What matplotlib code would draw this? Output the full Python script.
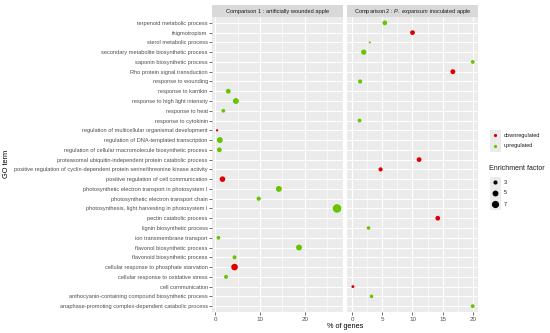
import matplotlib
matplotlib.use("Agg")
import matplotlib.pyplot as plt
from matplotlib.ticker import MultipleLocator
import numpy as np

plt.rcParams['font.family'] = ['Liberation Sans', 'DejaVu Sans']
plt.rcParams['mathtext.fontset'] = 'custom'
plt.rcParams['mathtext.rm'] = 'Liberation Sans'
plt.rcParams['mathtext.it'] = 'Liberation Sans:italic'

go_terms = [
    "terpenoid metabolic process",
    "thigmotropism",
    "sterol metabolic process",
    "secondary metabolite biosynthetic process",
    "saponin biosynthetic process",
    "Rho protein signal transduction",
    "response to wounding",
    "response to karrikin",
    "response to high light intensity",
    "response to heat",
    "response to cytokinin",
    "regulation of multicellular organismal development",
    "regulation of DNA-templated transcription",
    "regulation of cellular macromolecule biosynthetic process",
    "proteasomal ubiquitin-independent protein catabolic process",
    "positive regulation of cyclin-dependent protein serine/threonine kinase activity",
    "positive regulation of cell communication",
    "photosynthetic electron transport in photosystem I",
    "photosynthetic electron transport chain",
    "photosynthesis, light harvesting in photosystem I",
    "pectin catabolic process",
    "lignin biosynthetic process",
    "ion transmembrane transport",
    "flavonol biosynthetic process",
    "flavonoid biosynthetic process",
    "cellular response to phosphate starvation",
    "cellular response to oxidative stress",
    "cell communication",
    "anthocyanin-containing compound biosynthetic process",
    "anaphase-promoting complex-dependent catabolic process",
]

# Comparison 1: artificially wounded apple
terms1 = ["response to karrikin", "response to high light intensity", "response to heat",
          "regulation of multicellular organismal development",
          "regulation of DNA-templated transcription",
          "regulation of cellular macromolecule biosynthetic process",
          "positive regulation of cell communication",
          "photosynthetic electron transport in photosystem I",
          "photosynthetic electron transport chain",
          "photosynthesis, light harvesting in photosystem I",
          "ion transmembrane transport", "flavonol biosynthetic process",
          "flavonoid biosynthetic process", "cellular response to phosphate starvation",
          "cellular response to oxidative stress"]
pct1 = [2.9, 4.6, 1.8, 0.4, 1.0, 0.9, 1.6, 14.2, 9.7, 27.2, 0.7, 18.7, 4.3, 4.3, 2.4]
ef1 = [3.6, 5.0, 2.6, 1.6, 5.0, 3.6, 4.6, 5.0, 3.0, 9.4, 2.6, 5.0, 2.8, 6.0, 2.8]
reg1 = ["up", "up", "up", "down", "up", "up", "down", "up", "up", "up", "up", "up", "up", "down", "up"]

# Comparison 2: P. expansum inoculated apple
terms2 = ["terpenoid metabolic process", "thigmotropism", "sterol metabolic process",
          "secondary metabolite biosynthetic process", "saponin biosynthetic process",
          "Rho protein signal transduction", "response to wounding", "response to cytokinin",
          "proteasomal ubiquitin-independent protein catabolic process",
          "positive regulation of cyclin-dependent protein serine/threonine kinase activity",
          "pectin catabolic process", "lignin biosynthetic process", "cell communication",
          "anthocyanin-containing compound biosynthetic process",
          "anaphase-promoting complex-dependent catabolic process"]
pct2 = [5.4, 10.0, 2.9, 1.9, 20.0, 16.7, 1.3, 1.2, 11.1, 4.7, 14.2, 2.7, 0.1, 3.2, 20.0]
ef2 = [3.6, 3.6, 1.5, 4.2, 2.7, 3.8, 3.0, 2.7, 3.6, 3.0, 3.6, 2.5, 2.0, 2.5, 2.7]
reg2 = ["up", "down", "up", "up", "up", "down", "up", "up", "down", "down", "down", "up", "down", "up", "up"]

legend_sizes = [3, 5, 7]
colors = {"down": "#E00000", "up": "#66C400"}

W, H = 550, 333
fig = plt.figure(figsize=(5.5, 3.33), dpi=100)


def fx(px):
    return px / W


def fy(py):
    return 1 - py / H


def size_of(ef):
    return np.maximum(4.5 * np.asarray(ef, float) - 4.5, 1.5)


panel_top, panel_bot = 17, 312
strip_top = 5
panels = [
    (212, 343.3, (-0.74, 28.6), 10, 5, terms1, pct1, ef1, reg1,
     "Comparison 1 : artificially wounded apple"),
    (347, 478.3, (-0.88, 20.93), 5, 2.5, terms2, pct2, ef2, reg2,
     r"Comparison 2 : $\mathit{P.\ expansum}$ inoculated apple"),
]

n = len(go_terms)
idx = {t: i for i, t in enumerate(go_terms)}
for k, (l, r, xl, maj, mnr, terms, pct, ef, reg, title) in enumerate(panels):
    ax = fig.add_axes([fx(l), fy(panel_bot), fx(r - l), (panel_bot - panel_top) / H])
    ax.set_facecolor("#EBEBEB")
    for s in ax.spines.values():
        s.set_visible(False)
    ax.set_xlim(*xl)
    ax.set_ylim(n - 1 + 0.6, -0.6)
    ax.xaxis.set_major_locator(MultipleLocator(maj))
    ax.xaxis.set_minor_locator(MultipleLocator(mnr))
    ax.set_yticks(range(n))
    ax.grid(which="major", color="white", lw=0.75)
    ax.grid(which="minor", axis="x", color="white", lw=0.4)
    ax.set_axisbelow(True)
    ax.tick_params(axis="x", which="major", length=2, width=0.5, color="#333333",
                   labelsize=4.5, labelcolor="#4D4D4D", pad=1.5)
    ax.tick_params(axis="x", which="minor", length=0)
    if k == 0:
        ax.set_yticklabels(go_terms)
        ax.tick_params(axis="y", length=2, width=0.5, color="#333333",
                       labelsize=4.1, labelcolor="#4D4D4D", pad=1)
    else:
        ax.tick_params(axis="y", length=0, labelleft=False)
    ys = [idx[t] for t in terms]
    cs = [colors[g] for g in reg]
    ax.scatter(pct, ys, s=size_of(ef), c=cs, linewidths=0, zorder=3)

    sax = fig.add_axes([fx(l), fy(panel_top), fx(r - l), (panel_top - strip_top) / H])
    sax.set_facecolor("#D9D9D9")
    sax.set_xticks([])
    sax.set_yticks([])
    for s in sax.spines.values():
        s.set_visible(False)
    sax.text(0.5, 0.5, title, ha="center", va="center", fontsize=4.1, color="#1A1A1A",
             transform=sax.transAxes)

fig.text(fx(345), fy(327), "% of genes", ha="center", va="center", fontsize=5.3)
fig.text(fx(7), fy(164), "GO term", ha="center", va="center", rotation=90, fontsize=5.3)

# Legend: regulation
for lab, key, py in [("downregulated", "down", 135), ("upregulated", "up", 146)]:
    fig.patches.append(plt.Rectangle((fx(489.5), fy(py + 5.5)), fx(11), 11 / H,
                                     transform=fig.transFigure, facecolor="#EBEBEB",
                                     edgecolor="none"))
    fig.text(fx(504), fy(py), lab, ha="left", va="center", fontsize=4.0, color="#1A1A1A")
    fig.add_artist(plt.Line2D([fx(495)], [fy(py)], marker="o", ms=2.3, color=colors[key],
                              mec="none", transform=fig.transFigure))

# Legend: enrichment factor
fig.text(fx(489), fy(169), "Enrichment factor", ha="left", va="center", fontsize=5.0,
         color="#1A1A1A")
for v, py in zip(legend_sizes, [182, 193, 204]):
    fig.patches.append(plt.Rectangle((fx(489.5), fy(py + 5.5)), fx(11), 11 / H,
                                     transform=fig.transFigure, facecolor="#EBEBEB",
                                     edgecolor="none"))
    ms = float(np.sqrt(size_of(v)))
    fig.add_artist(plt.Line2D([fx(495)], [fy(py)], marker="o", ms=ms, color="black",
                              mec="none", transform=fig.transFigure))
    fig.text(fx(504), fy(py), str(v), ha="left", va="center", fontsize=4.0, color="#1A1A1A")

fig.savefig("out.png", dpi=100, facecolor="white")
